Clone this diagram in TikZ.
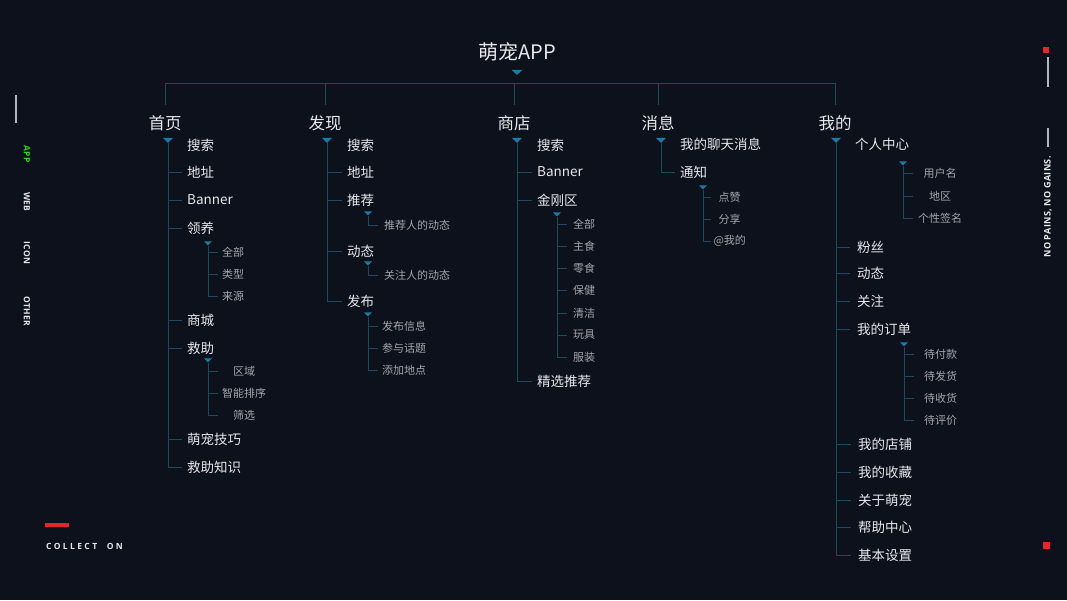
\documentclass[tikz,border=0pt]{standalone}
\usepackage{fontspec}
\setmainfont{Noto Sans CJK SC}
\newfontfamily\sidefont[LetterSpace=4]{Open Sans}
\newfontfamily\wideside[LetterSpace=28]{Open Sans}
\usetikzlibrary{shapes.geometric}
\definecolor{petBg}{HTML}{0D111B}
\definecolor{petLine}{HTML}{1D4A60}
\definecolor{petTri}{HTML}{1A7CA4}
\definecolor{petText}{HTML}{E6E8EC}
\definecolor{petSub}{HTML}{A3A6AD}
\definecolor{petRed}{HTML}{E0282C}
\definecolor{petGreen}{HTML}{2BD62B}
\definecolor{petBar}{HTML}{B4B6BE}
\tikzset{
  title/.style={text=petText, font=\fontsize{20}{24}\selectfont, inner sep=0pt},
  head/.style={text=petText, font=\fontsize{16.5}{20}\selectfont, inner sep=0pt},
  item/.style={text=petText, font=\fontsize{13.5}{16}\selectfont, inner sep=0pt, anchor=west},
  sub/.style={text=petSub, font=\fontsize{11}{13}\selectfont, inner sep=0pt, anchor=west},
  subc/.style={sub, minimum width=#1},
  tri/.style={isosceles triangle, isosceles triangle stretches, shape border rotate=-90,
    fill=petTri, inner sep=0pt, minimum width=10pt, minimum height=5pt},
  subtri/.style={tri, minimum width=8pt, minimum height=4pt},
  branch/.style={draw=petLine, line width=0.8pt},
  side/.style={font=\sidefont\bfseries\fontsize{9}{11}\selectfont, text=petText, inner sep=0pt},
  menu/.style={font=\sidefont\bfseries\fontsize{8.5}{10}\selectfont, text=petText, inner sep=0pt, rotate=-90},
  stamp/.style={font=\wideside\bfseries\fontsize{8.5}{10}\selectfont, text=petText, inner sep=0pt, anchor=west}
}
\begin{document}
\begin{tikzpicture}[x=1pt, y=-1pt]
  \fill[petBg] (0,0) rectangle (1067,600);
  \useasboundingbox (0,0) rectangle (1067,600);

  % side decoration
  \draw[petBar, line width=1.5pt] (16,95) -- (16,123);
  \node[menu, text=petGreen] (sApp) at (27,154) {APP};
  \node[menu] (sWeb) at (27,202) {WEB};
  \node[menu] (sIcon) at (27,253) {ICON};
  \node[menu] (sOther) at (27,311) {OTHER};
  \fill[petRed] (45,523) rectangle (69,527);
  \node[stamp] (collect) at (46,546) {COLLECT\hspace{5pt} ON};
  \fill[petRed] (1043,47) rectangle (1049,53);
  \draw[petBar, line width=1.5pt] (1048,57) -- (1048,87);
  \draw[petBar, line width=1.5pt] (1048,128) -- (1048,147);
  \node[side, rotate=90] (motto) at (1048,207) {NO PAINS, NO GAINS.};
  \fill[petRed] (1043,542) rectangle (1050,549);

  % root
  \node[title] (root) at (517,52) {萌宠APP};
  \node[tri, minimum width=11pt] (t0) at (517,72) {};
  \coordinate (bar) at (517,83);

  \node[head] (h1) at (165,123) {首页};
  \node[head] (h2) at (325,123) {发现};
  \node[head] (h3) at (514,123) {商店};
  \node[head] (h4) at (658,123) {消息};
  \node[head] (h5) at (835,123) {我的};
  \foreach \h in {h1,h2,h3,h4,h5}
    \draw[branch] ([yshift=10pt]\h.north) |- (bar);

  % 首页
  \node[tri] (t1) at (168,140) {};
  \node[item] (a1) at (187,145) {搜索};
  \node[item] (a2) at (187,172) {地址};
  \node[item] (a3) at (187,200) {Banner};
  \node[item] (a4) at (187,228) {领养};
  \node[subtri] (t1a) at (208,243) {};
  \node[sub] (a41) at (222,252) {全部};
  \node[sub] (a42) at (222,274) {类型};
  \node[sub] (a43) at (222,296) {来源};
  \node[item] (a5) at (187,320) {商城};
  \node[item] (a6) at (187,348) {救助};
  \node[subtri] (t1b) at (208,360) {};
  \node[subc=44pt] (a61) at (222,371) {区域};
  \node[subc=44pt] (a62) at (222,393) {智能排序};
  \node[subc=44pt] (a63) at (222,415) {筛选};
  \node[item] (a7) at (187,439) {萌宠技巧};
  \node[item] (a8) at (187,467) {救助知识};
  \foreach \n in {a2,a3,a4,a5,a6,a7,a8}
    \draw[branch] (t1.apex) |- ([xshift=-5pt]\n.west);
  \foreach \n in {a41,a42,a43}
    \draw[branch] (t1a.apex) |- ([xshift=-4pt]\n.west);
  \foreach \n in {a61,a62,a63}
    \draw[branch] (t1b.apex) |- ([xshift=-4pt]\n.west);

  % 发现
  \node[tri] (t2) at (327,140) {};
  \node[item] (b1) at (347,145) {搜索};
  \node[item] (b2) at (347,172) {地址};
  \node[item] (b3) at (347,200) {推荐};
  \node[subtri] (t2a) at (368,213) {};
  \node[sub] (b31) at (384,225) {推荐人的动态};
  \node[item] (b4) at (347,251) {动态};
  \node[subtri] (t2b) at (368,263) {};
  \node[sub] (b41) at (384,275) {关注人的动态};
  \node[item] (b5) at (347,301) {发布};
  \node[subtri] (t2c) at (368,314) {};
  \node[sub] (b51) at (382,326) {发布信息};
  \node[sub] (b52) at (382,348) {参与话题};
  \node[sub] (b53) at (382,370) {添加地点};
  \foreach \n in {b2,b3,b4,b5}
    \draw[branch] (t2.apex) |- ([xshift=-5pt]\n.west);
  \draw[branch] (t2a.apex) |- ([xshift=-6pt]b31.west);
  \draw[branch] (t2b.apex) |- ([xshift=-6pt]b41.west);
  \foreach \n in {b51,b52,b53}
    \draw[branch] (t2c.apex) |- ([xshift=-4pt]\n.west);

  % 商店
  \node[tri] (t3) at (517,140) {};
  \node[item] (c1) at (537,145) {搜索};
  \node[item] (c2) at (537,172) {Banner};
  \node[item] (c3) at (537,200) {金刚区};
  \node[subtri] (t3a) at (557,214) {};
  \node[sub] (c31) at (573,224) {全部};
  \node[sub] (c32) at (573,246) {主食};
  \node[sub] (c33) at (573,268) {零食};
  \node[sub] (c34) at (573,290) {保健};
  \node[sub] (c35) at (573,313) {清洁};
  \node[sub] (c36) at (573,335) {玩具};
  \node[sub] (c37) at (573,357) {服装};
  \node[item] (c4) at (537,381) {精选推荐};
  \foreach \n in {c2,c3,c4}
    \draw[branch] (t3.apex) |- ([xshift=-5pt]\n.west);
  \foreach \n in {c31,c32,c33,c34,c35,c36,c37}
    \draw[branch] (t3a.apex) |- ([xshift=-6pt]\n.west);

  % 消息
  \node[tri] (t4) at (661,140) {};
  \node[item] (d1) at (680,144) {我的聊天消息};
  \node[item] (d2) at (680,172) {通知};
  \node[subtri] (t4a) at (703,187) {};
  \node[subc=33pt] (d21) at (713,197) {点赞};
  \node[subc=33pt] (d22) at (713,219) {分享};
  \node[subc=33pt] (d23) at (713,241) {@我的};
  \draw[branch] (t4.apex) |- ([xshift=-5pt]d2.west);
  \foreach \n in {d21,d22,d23}
    \draw[branch] (t4a.apex) |- ([xshift=-2pt]\n.west);

  % 我的
  \node[tri] (t5) at (836,140) {};
  \node[item] (e1) at (855,144) {个人中心};
  \node[subtri] (t5a) at (903,163) {};
  \node[subc=44pt] (e11) at (918,173) {用户名};
  \node[subc=44pt] (e12) at (918,196) {地区};
  \node[subc=44pt] (e13) at (918,218) {个性签名};
  \node[item] (e2) at (857,247) {粉丝};
  \node[item] (e3) at (857,273) {动态};
  \node[item] (e4) at (857,301) {关注};
  \node[item] (e5) at (857,329) {我的订单};
  \node[subtri] (t5b) at (904,344) {};
  \node[sub] (e51) at (924,354) {待付款};
  \node[sub] (e52) at (924,376) {待发货};
  \node[sub] (e53) at (924,398) {待收货};
  \node[sub] (e54) at (924,420) {待评价};
  \node[item] (e6) at (858,444) {我的店铺};
  \node[item] (e7) at (858,472) {我的收藏};
  \node[item] (e8) at (858,500) {关于萌宠};
  \node[item] (e9) at (858,527) {帮助中心};
  \node[item] (e10) at (858,555) {基本设置};
  \foreach \n in {e2,e3,e4,e5,e6,e7,e8,e9,e10}
    \draw[branch] (t5.apex) |- ([xshift=-7pt]\n.west);
  \foreach \n in {e11,e12,e13}
    \draw[branch] (t5a.apex) |- ([xshift=-5pt]\n.west);
  \foreach \n in {e51,e52,e53,e54}
    \draw[branch] (t5b.apex) |- ([xshift=-10pt]\n.west);
\end{tikzpicture}
\end{document}
